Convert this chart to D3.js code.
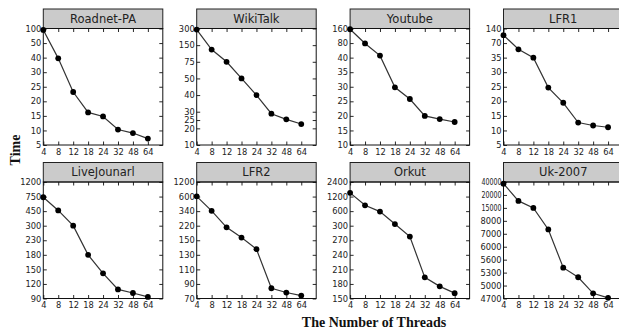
<!DOCTYPE html>
<html>
<head>
<meta charset="utf-8">
<script src="https://cdn.jsdelivr.net/npm/d3@7"></script>
<style>
  html, body { margin: 0; padding: 0; background: #fff; }
  svg { display: block; }
</style>
</head>
<body>
<div id="chart"></div>
<script>
'use strict'

const threads = [4, 8, 12, 18, 24, 32, 48, 64];
const graphNames = ["Roadnet-PA", "WikiTalk", "Youtube", "LFR1", "LiveJounarl", "LFR2", "Orkut", "Uk-2007"];

// running time per thread count
const roadnetTimes = [95, 39.5, 23.2, 16.2, 14.8, 10.3, 9.1, 7.2];
const wikiTimes = [290, 130, 75, 50, 40, 28.8, 25.4, 22.6];
const youtubeTimes = [156, 79, 45.5, 29.8, 25.8, 20, 18.9, 17.9];
const lfr1Times = [108, 55, 35, 24.7, 19.5, 12.7, 11.7, 11.1];
const livejTimes = [736, 464, 300, 180, 141.8, 108.7, 101.3, 93.3];
const lfr2Times = [610, 345, 212, 162.7, 137.7, 84.1, 78.2, 74];
const orkutTimes = [1507, 840, 590, 334, 277.5, 193.6, 175, 161];
const ukTimes = [37400, 17700, 15000, 7333, 5415, 5192, 4820, 4715];

// tick labels of each panel (bottom to top)
const roadnetTicks = [5, 10, 15, 20, 25, 30, 40, 50, 100];
const wikiTicks = [10, 20, 25, 30, 40, 50, 75, 150, 300];
const youtubeTicks = [10, 15, 20, 25, 30, 35, 40, 80, 160];
const lfr1Ticks = [5, 10, 15, 20, 25, 30, 35, 70, 140];
const livejTicks = [90, 120, 150, 180, 230, 300, 450, 750, 1200];
const lfr2Ticks = [70, 90, 110, 130, 150, 220, 340, 600, 1200];
const orkutTicks = [150, 180, 210, 240, 270, 300, 600, 1200, 2400];
const ukTicks = [4700, 5000, 5300, 5600, 6000, 7000, 8000, 15000, 20000, 40000];

// the values that sit at even steps of the broken y axis
const wikiStops = [10, 20, 30, 40, 50, 75, 150, 300];

const panels = [
    { name: graphNames[0], times: roadnetTimes, ticks: roadnetTicks, stops: roadnetTicks },
    { name: graphNames[1], times: wikiTimes, ticks: wikiTicks, stops: wikiStops },
    { name: graphNames[2], times: youtubeTimes, ticks: youtubeTicks, stops: youtubeTicks },
    { name: graphNames[3], times: lfr1Times, ticks: lfr1Ticks, stops: lfr1Ticks },
    { name: graphNames[4], times: livejTimes, ticks: livejTicks, stops: livejTicks },
    { name: graphNames[5], times: lfr2Times, ticks: lfr2Ticks, stops: lfr2Ticks },
    { name: graphNames[6], times: orkutTimes, ticks: orkutTicks, stops: orkutTicks },
    { name: graphNames[7], times: ukTimes, ticks: ukTicks, stops: ukTicks }
];

const width = 619;
const height = 333;

const left0 = 43.3;
const colStep = 153.4;
const plotW = 119.5;
const rowTops = [9, 162.5];
const titleH = 19.5;
const plotH = 116.5;
const tickLen = 3.5;

const svg = d3.select("#chart")
    .append("svg")
    .attr("width", width)
    .attr("height", height);

const tickFont = "DejaVu Sans, sans-serif";

panels.forEach((p, i) => {
    const col = i % 4;
    const row = Math.floor(i / 4);
    const gx = left0 + col * colStep;
    const gy = rowTops[row];

    const g = svg.append("g")
        .attr("transform", `translate(${gx},${gy})`);

    // title strip
    g.append("rect")
        .attr("x", 0)
        .attr("y", 0)
        .attr("width", plotW)
        .attr("height", titleH)
        .attr("fill", "#cbcbcb")
        .attr("stroke", "#222")
        .attr("stroke-width", 1);

    g.append("text")
        .attr("x", plotW / 2)
        .attr("y", titleH / 2 + 4)
        .attr("text-anchor", "middle")
        .style("font-family", tickFont)
        .style("font-weight", "400")
        .style("font-size", "11.5px")
        .style("fill", "#222")
        .text(p.name);

    const plot = g.append("g")
        .attr("transform", `translate(0,${titleH})`);

    // x: thread counts at even steps, one spare step on the right
    const x = d3.scaleLinear()
        .domain([0, threads.length])
        .range([0, plotW]);

    // y: piecewise scale, each stop one even step apart
    const y = d3.scaleLinear()
        .domain(p.stops)
        .range(p.stops.map((d, k) => plotH - k * plotH / (p.stops.length - 1)));

    const xIdx = d3.range(threads.length);

    // ticks on all four sides, pointing in
    plot.append("g")
        .attr("transform", `translate(0,${plotH})`)
        .call(d3.axisBottom(x).tickValues(xIdx).tickSizeInner(-tickLen).tickSizeOuter(0)
            .tickPadding(4).tickFormat(k => threads[k]))
        .call(a => a.select(".domain").remove())
        .call(a => a.selectAll("text")
            .style("font-family", tickFont)
            .style("font-size", "8.3px")
            .attr("fill", "#222"));

    plot.append("g")
        .call(d3.axisTop(x).tickValues(xIdx).tickSizeInner(-tickLen).tickSizeOuter(0).tickFormat(""))
        .call(a => a.select(".domain").remove());

    plot.append("g")
        .call(d3.axisLeft(y).tickValues(p.ticks).tickSizeInner(-tickLen).tickSizeOuter(0)
            .tickPadding(2).tickFormat(d3.format("d")))
        .call(a => a.select(".domain").remove())
        .call(a => a.selectAll("text")
            .style("font-family", tickFont)
            .style("font-size", "8.3px")
            .attr("fill", "#222")
            .each(function (d) {
                if (String(d).length >= 5) {
                    d3.select(this).attr("textLength", 20).attr("lengthAdjust", "spacingAndGlyphs");
                }
            }));

    plot.append("g")
        .attr("transform", `translate(${plotW},0)`)
        .call(d3.axisRight(y).tickValues(p.ticks).tickSizeInner(-tickLen).tickSizeOuter(0).tickFormat(""))
        .call(a => a.select(".domain").remove());

    plot.selectAll(".tick line")
        .attr("stroke", "#111")
        .attr("stroke-width", 0.9);

    // frame
    plot.append("rect")
        .attr("x", 0)
        .attr("y", 0)
        .attr("width", plotW)
        .attr("height", plotH)
        .attr("fill", "none")
        .attr("stroke", "#111")
        .attr("stroke-width", 1);

    const line = d3.line()
        .x((d, k) => x(k))
        .y(d => y(d));

    plot.append("path")
        .datum(p.times)
        .attr("d", line)
        .attr("fill", "none")
        .attr("stroke", "#333")
        .attr("stroke-width", 1.2);

    plot.selectAll(".pt")
        .data(p.times)
        .enter().append("circle")
        .attr("class", "pt")
        .attr("cx", (d, k) => x(k))
        .attr("cy", d => y(d))
        .attr("r", 2.9)
        .attr("fill", "#000");
});

// axis titles
svg.append("text")
    .attr("x", 374)
    .attr("y", 327)
    .attr("text-anchor", "middle")
    .style("font-family", "Liberation Serif, Times New Roman, serif")
    .style("font-weight", "bold")
    .style("font-size", "14px")
    .style("fill", "#111")
    .text("The Number of Threads");

svg.append("text")
    .attr("transform", "translate(20,150) rotate(-90)")
    .attr("text-anchor", "middle")
    .style("font-family", "Liberation Serif, Times New Roman, serif")
    .style("font-weight", "bold")
    .style("font-size", "14px")
    .style("fill", "#111")
    .text("Time");
</script>
</body>
</html>
